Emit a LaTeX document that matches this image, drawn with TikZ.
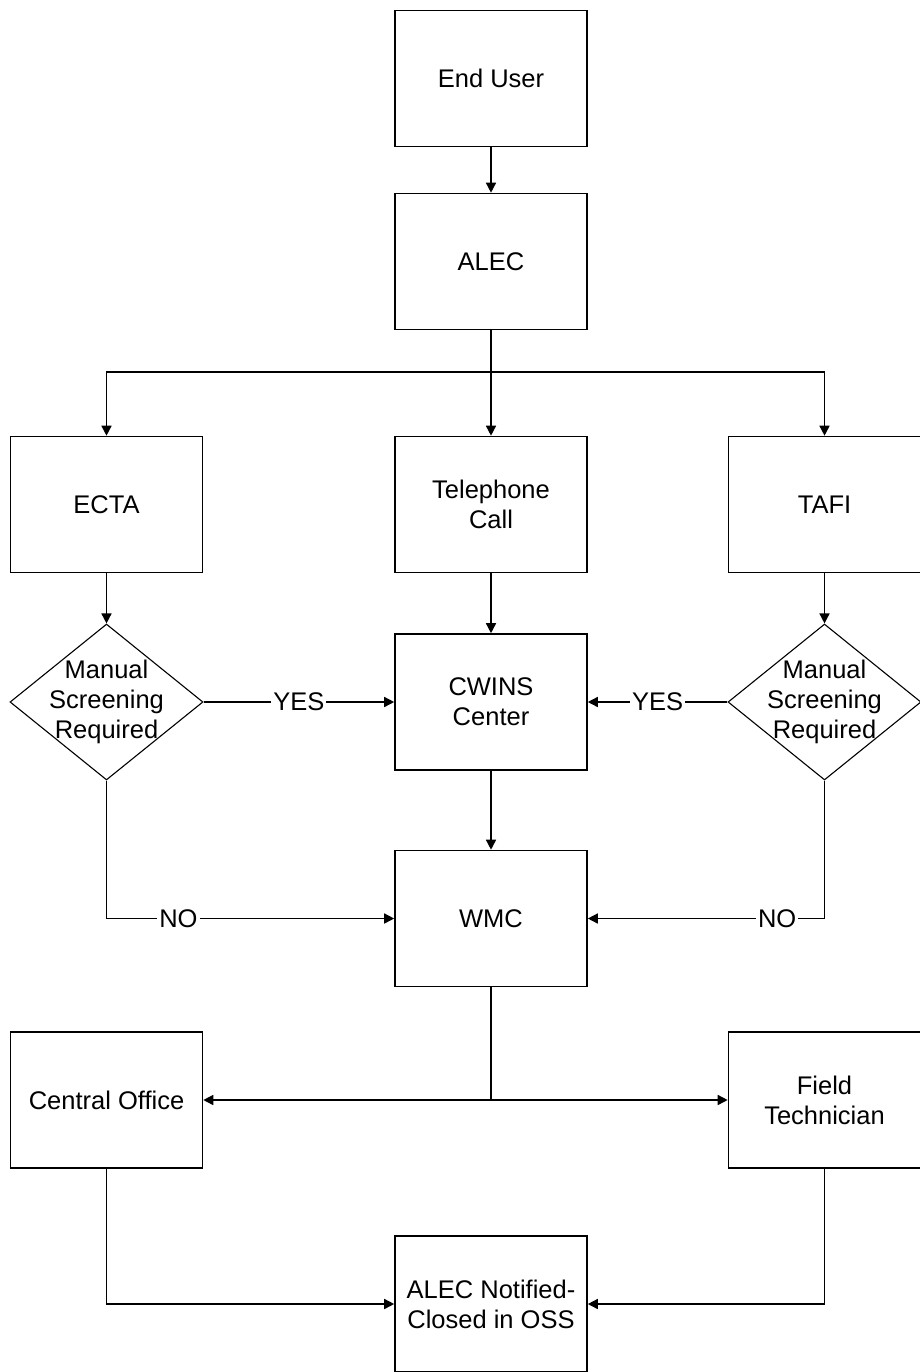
\documentclass[tikz,border=0pt]{standalone}
\usepackage{fontspec}
\setmainfont{Liberation Sans}
\usetikzlibrary{arrows.meta,shapes.geometric}
\begin{document}
\begin{tikzpicture}[x=1pt,y=-1pt,
  every node/.style={font=\fontsize{25.5}{30}\selectfont, align=center},
  box/.style={draw, line width=1.6pt, minimum width=192pt, minimum height=136pt, inner sep=0pt},
  decision/.style={draw, diamond, line width=1.1pt, minimum width=193pt, minimum height=156pt, inner sep=0pt},
  flow/.style={line width=1.5pt, -{Triangle[length=10pt,width=10pt]}},
  link/.style={line width=1.5pt},
  tag/.style={fill=white, inner sep=2pt}]
\useasboundingbox (0,0) rectangle (919,1372);

% process boxes
\node[box] (enduser) at (491,78.5) {End User};
\node[box] (alec)    at (491,261.5) {ALEC};
\node[box] (ecta)    at (106.5,504.5) {ECTA};
\node[box] (tel)     at (491,504.5) {Telephone\\Call};
\node[box] (tafi)    at (824.5,504.5) {TAFI};
\node[box] (cwins)   at (491,702) {CWINS\\Center};
\node[box] (wmc)     at (491,918.5) {WMC};
\node[box] (co)      at (106.5,1100) {Central Office};
\node[box] (ft)      at (824.5,1100) {Field\\Technician};
\node[box] (notify)  at (491,1304) {ALEC Notified-\\Closed in OSS};

% decisions
\node[decision] (d1) at (106.5,702) {};
\node (d1t) at (d1.center) {Manual\\Screening\\Required};
\node[decision] (d2) at (824.5,702) {};
\node (d2t) at (d2.center) {Manual\\Screening\\Required};

% junction points
\coordinate (br) at (491,372);
\coordinate (jn) at (wmc.south |- co.east);

% top chain
\draw[flow] (enduser) -- (alec);
\draw[line width=2.6pt] (alec.south) -- (br);
\draw[flow] (br) -- (tel.north);
\draw[flow] (br) -| (ecta.north);
\draw[flow] (br) -| (tafi.north);

\draw[flow] (ecta) -- (d1);
\draw[flow] (tafi) -- (d2);
\draw[flow] (tel) -- (cwins);
\draw[flow] (cwins) -- (wmc);

% screening outcomes
\draw[flow] (d1.east) -- node[tag] {YES} (cwins.west);
\draw[flow] (d2.west) -- node[tag] {YES} (cwins.east);
\draw[flow] (d1.south) |- node[tag, pos=0.625] {NO} (wmc.west);
\draw[flow] (d2.south) |- node[tag, pos=0.6] {NO} (wmc.east);

% dispatch
\draw[link] (wmc.south) -- (jn);
\draw[flow] (jn) -- (co.east);
\draw[flow] (jn) -- (ft.west);

% closure
\draw[flow] (co.south) |- (notify.west);
\draw[flow] (ft.south) |- (notify.east);
\end{tikzpicture}
\end{document}
